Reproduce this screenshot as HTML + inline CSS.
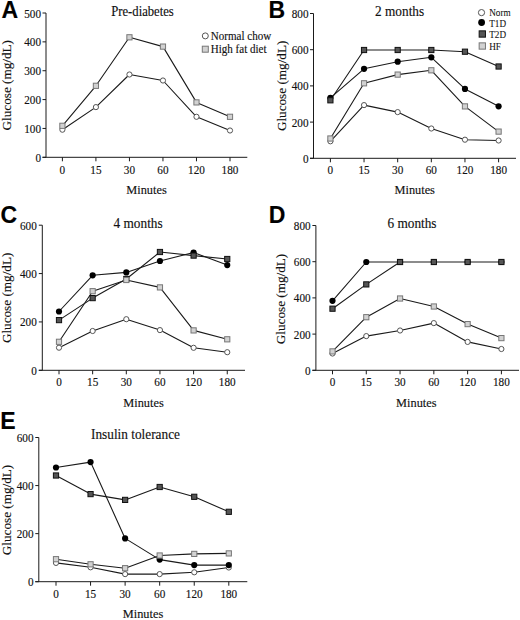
<!DOCTYPE html>
<html><head><meta charset="utf-8"><title>Glucose tolerance figure</title><style>
html,body{margin:0;padding:0;background:#fff;}
body{width:520px;height:620px;overflow:hidden;}
svg{display:block;}
.L{font-family:"Liberation Sans",sans-serif;font-weight:bold;font-size:24px;fill:#000;}
text{stroke:#111;stroke-width:0.15px;}
.t{font-family:"Liberation Serif",serif;font-size:12.2px;fill:#111;}
.m{font-family:"Liberation Serif",serif;font-size:13px;fill:#111;}
.ti{font-family:"Liberation Serif",serif;font-size:14px;fill:#111;}
.g{font-family:"Liberation Serif",serif;font-size:13.2px;fill:#111;}
.lg{font-family:"Liberation Serif",serif;font-size:12px;fill:#111;}
.lg2{font-family:"Liberation Serif",serif;font-size:10px;fill:#111;stroke-width:0.08px;}
.ax{stroke:#1a1a1a;stroke-width:1;fill:none;}
.ln{stroke:#1a1a1a;stroke-width:1.1;fill:none;stroke-linejoin:round;}
.mo{fill:#fff;stroke:#555;stroke-width:1;}
.mc{fill:#000;stroke:none;}
.md{fill:#555555;stroke:#111;stroke-width:1;}
.ml{fill:#d2d2d2;stroke:#777;stroke-width:1;}
</style></head><body>
<svg width="520" height="620" viewBox="0 0 520 620">
<rect width="520" height="620" fill="#fff"/>
<text transform="translate(1.5,18.3) scale(0.96,1)" class="L">A</text>
<line x1="46" y1="13" x2="46" y2="157.3" class="ax"/>
<line x1="42.5" y1="157.3" x2="247.3" y2="157.3" class="ax"/>
<line x1="42.5" y1="13" x2="46" y2="13" class="ax"/>
<text transform="translate(41,17.5) scale(0.92,1)" class="t" text-anchor="end">500</text>
<line x1="42.5" y1="41.86" x2="46" y2="41.86" class="ax"/>
<text transform="translate(41,46.36) scale(0.92,1)" class="t" text-anchor="end">400</text>
<line x1="42.5" y1="70.72" x2="46" y2="70.72" class="ax"/>
<text transform="translate(41,75.22) scale(0.92,1)" class="t" text-anchor="end">300</text>
<line x1="42.5" y1="99.58" x2="46" y2="99.58" class="ax"/>
<text transform="translate(41,104.08) scale(0.92,1)" class="t" text-anchor="end">200</text>
<line x1="42.5" y1="128.44" x2="46" y2="128.44" class="ax"/>
<text transform="translate(41,132.94) scale(0.92,1)" class="t" text-anchor="end">100</text>
<line x1="42.5" y1="157.3" x2="46" y2="157.3" class="ax"/>
<text transform="translate(41,161.8) scale(0.92,1)" class="t" text-anchor="end">0</text>
<line x1="62.4" y1="157.3" x2="62.4" y2="161.3" class="ax"/>
<text transform="translate(62.4,174) scale(0.92,1)" class="t" text-anchor="middle">0</text>
<line x1="95.92" y1="157.3" x2="95.92" y2="161.3" class="ax"/>
<text transform="translate(95.92,174) scale(0.92,1)" class="t" text-anchor="middle">15</text>
<line x1="129.44" y1="157.3" x2="129.44" y2="161.3" class="ax"/>
<text transform="translate(129.44,174) scale(0.92,1)" class="t" text-anchor="middle">30</text>
<line x1="162.96" y1="157.3" x2="162.96" y2="161.3" class="ax"/>
<text transform="translate(162.96,174) scale(0.92,1)" class="t" text-anchor="middle">60</text>
<line x1="196.48" y1="157.3" x2="196.48" y2="161.3" class="ax"/>
<text transform="translate(196.48,174) scale(0.92,1)" class="t" text-anchor="middle">120</text>
<line x1="230" y1="157.3" x2="230" y2="161.3" class="ax"/>
<text transform="translate(230,174) scale(0.92,1)" class="t" text-anchor="middle">180</text>
<text transform="translate(146.5,194.2) scale(0.95,1)" class="m" text-anchor="middle">Minutes</text>
<text transform="translate(142.5,15.8) scale(0.905,1)" class="ti" text-anchor="middle">Pre-diabetes</text>
<text transform="translate(11.4,85.25) rotate(-90) scale(1,0.92)" class="g" text-anchor="middle">Glucose (mg/dL)</text>
<text transform="translate(268.5,18.2) scale(0.96,1)" class="L">B</text>
<line x1="313.5" y1="13.5" x2="313.5" y2="158.3" class="ax"/>
<line x1="310" y1="158.3" x2="516" y2="158.3" class="ax"/>
<line x1="310" y1="13.5" x2="313.5" y2="13.5" class="ax"/>
<text transform="translate(308.5,18) scale(0.92,1)" class="t" text-anchor="end">800</text>
<line x1="310" y1="49.7" x2="313.5" y2="49.7" class="ax"/>
<text transform="translate(308.5,54.2) scale(0.92,1)" class="t" text-anchor="end">600</text>
<line x1="310" y1="85.9" x2="313.5" y2="85.9" class="ax"/>
<text transform="translate(308.5,90.4) scale(0.92,1)" class="t" text-anchor="end">400</text>
<line x1="310" y1="122.1" x2="313.5" y2="122.1" class="ax"/>
<text transform="translate(308.5,126.6) scale(0.92,1)" class="t" text-anchor="end">200</text>
<line x1="310" y1="158.3" x2="313.5" y2="158.3" class="ax"/>
<text transform="translate(308.5,162.8) scale(0.92,1)" class="t" text-anchor="end">0</text>
<line x1="330.4" y1="158.3" x2="330.4" y2="162.3" class="ax"/>
<text transform="translate(330.4,174.3) scale(0.92,1)" class="t" text-anchor="middle">0</text>
<line x1="364.04" y1="158.3" x2="364.04" y2="162.3" class="ax"/>
<text transform="translate(364.04,174.3) scale(0.92,1)" class="t" text-anchor="middle">15</text>
<line x1="397.68" y1="158.3" x2="397.68" y2="162.3" class="ax"/>
<text transform="translate(397.68,174.3) scale(0.92,1)" class="t" text-anchor="middle">30</text>
<line x1="431.32" y1="158.3" x2="431.32" y2="162.3" class="ax"/>
<text transform="translate(431.32,174.3) scale(0.92,1)" class="t" text-anchor="middle">60</text>
<line x1="464.96" y1="158.3" x2="464.96" y2="162.3" class="ax"/>
<text transform="translate(464.96,174.3) scale(0.92,1)" class="t" text-anchor="middle">120</text>
<line x1="498.6" y1="158.3" x2="498.6" y2="162.3" class="ax"/>
<text transform="translate(498.6,174.3) scale(0.92,1)" class="t" text-anchor="middle">180</text>
<text transform="translate(414.7,193.8) scale(0.95,1)" class="m" text-anchor="middle">Minutes</text>
<text transform="translate(399.6,15.7) scale(0.95,1)" class="ti" text-anchor="middle">2 months</text>
<text transform="translate(285.6,85.9) rotate(-90) scale(1,0.92)" class="g" text-anchor="middle">Glucose (mg/dL)</text>
<text transform="translate(0.5,222.5) scale(0.96,1)" class="L">C</text>
<line x1="42.3" y1="225.2" x2="42.3" y2="370.3" class="ax"/>
<line x1="38.8" y1="370.3" x2="245" y2="370.3" class="ax"/>
<line x1="38.8" y1="225.2" x2="42.3" y2="225.2" class="ax"/>
<text transform="translate(36.8,229.7) scale(0.92,1)" class="t" text-anchor="end">600</text>
<line x1="38.8" y1="273.57" x2="42.3" y2="273.57" class="ax"/>
<text transform="translate(36.8,278.07) scale(0.92,1)" class="t" text-anchor="end">400</text>
<line x1="38.8" y1="321.93" x2="42.3" y2="321.93" class="ax"/>
<text transform="translate(36.8,326.43) scale(0.92,1)" class="t" text-anchor="end">200</text>
<line x1="38.8" y1="370.3" x2="42.3" y2="370.3" class="ax"/>
<text transform="translate(36.8,374.8) scale(0.92,1)" class="t" text-anchor="end">0</text>
<line x1="59" y1="370.3" x2="59" y2="374.3" class="ax"/>
<text transform="translate(59,386.3) scale(0.92,1)" class="t" text-anchor="middle">0</text>
<line x1="92.65" y1="370.3" x2="92.65" y2="374.3" class="ax"/>
<text transform="translate(92.65,386.3) scale(0.92,1)" class="t" text-anchor="middle">15</text>
<line x1="126.3" y1="370.3" x2="126.3" y2="374.3" class="ax"/>
<text transform="translate(126.3,386.3) scale(0.92,1)" class="t" text-anchor="middle">30</text>
<line x1="159.95" y1="370.3" x2="159.95" y2="374.3" class="ax"/>
<text transform="translate(159.95,386.3) scale(0.92,1)" class="t" text-anchor="middle">60</text>
<line x1="193.6" y1="370.3" x2="193.6" y2="374.3" class="ax"/>
<text transform="translate(193.6,386.3) scale(0.92,1)" class="t" text-anchor="middle">120</text>
<line x1="227.25" y1="370.3" x2="227.25" y2="374.3" class="ax"/>
<text transform="translate(227.25,386.3) scale(0.92,1)" class="t" text-anchor="middle">180</text>
<text transform="translate(143.5,407) scale(0.95,1)" class="m" text-anchor="middle">Minutes</text>
<text transform="translate(138.1,227.5) scale(0.95,1)" class="ti" text-anchor="middle">4 months</text>
<text transform="translate(11.1,297.9) rotate(-90) scale(1,0.92)" class="g" text-anchor="middle">Glucose (mg/dL)</text>
<text transform="translate(268.7,223) scale(0.96,1)" class="L">D</text>
<line x1="315.9" y1="225.5" x2="315.9" y2="370.3" class="ax"/>
<line x1="312.4" y1="370.3" x2="519" y2="370.3" class="ax"/>
<line x1="312.4" y1="225.5" x2="315.9" y2="225.5" class="ax"/>
<text transform="translate(310.7,230) scale(0.92,1)" class="t" text-anchor="end">800</text>
<line x1="312.4" y1="261.7" x2="315.9" y2="261.7" class="ax"/>
<text transform="translate(310.7,266.2) scale(0.92,1)" class="t" text-anchor="end">600</text>
<line x1="312.4" y1="297.9" x2="315.9" y2="297.9" class="ax"/>
<text transform="translate(310.7,302.4) scale(0.92,1)" class="t" text-anchor="end">400</text>
<line x1="312.4" y1="334.1" x2="315.9" y2="334.1" class="ax"/>
<text transform="translate(310.7,338.6) scale(0.92,1)" class="t" text-anchor="end">200</text>
<line x1="312.4" y1="370.3" x2="315.9" y2="370.3" class="ax"/>
<text transform="translate(310.7,374.8) scale(0.92,1)" class="t" text-anchor="end">0</text>
<line x1="332.5" y1="370.3" x2="332.5" y2="374.3" class="ax"/>
<text transform="translate(332.5,386.3) scale(0.92,1)" class="t" text-anchor="middle">0</text>
<line x1="366.28" y1="370.3" x2="366.28" y2="374.3" class="ax"/>
<text transform="translate(366.28,386.3) scale(0.92,1)" class="t" text-anchor="middle">15</text>
<line x1="400.06" y1="370.3" x2="400.06" y2="374.3" class="ax"/>
<text transform="translate(400.06,386.3) scale(0.92,1)" class="t" text-anchor="middle">30</text>
<line x1="433.84" y1="370.3" x2="433.84" y2="374.3" class="ax"/>
<text transform="translate(433.84,386.3) scale(0.92,1)" class="t" text-anchor="middle">60</text>
<line x1="467.62" y1="370.3" x2="467.62" y2="374.3" class="ax"/>
<text transform="translate(467.62,386.3) scale(0.92,1)" class="t" text-anchor="middle">120</text>
<line x1="501.4" y1="370.3" x2="501.4" y2="374.3" class="ax"/>
<text transform="translate(501.4,386.3) scale(0.92,1)" class="t" text-anchor="middle">180</text>
<text transform="translate(416.3,406.6) scale(0.95,1)" class="m" text-anchor="middle">Minutes</text>
<text transform="translate(412,227.5) scale(0.95,1)" class="ti" text-anchor="middle">6 months</text>
<text transform="translate(284.7,299) rotate(-90) scale(1,0.92)" class="g" text-anchor="middle">Glucose (mg/dL)</text>
<text transform="translate(0.2,429.3) scale(0.96,1)" class="L">E</text>
<line x1="38.8" y1="437.5" x2="38.8" y2="581.7" class="ax"/>
<line x1="35.3" y1="581.7" x2="247.3" y2="581.7" class="ax"/>
<line x1="35.3" y1="437.5" x2="38.8" y2="437.5" class="ax"/>
<text transform="translate(33.5,442) scale(0.92,1)" class="t" text-anchor="end">600</text>
<line x1="35.3" y1="485.57" x2="38.8" y2="485.57" class="ax"/>
<text transform="translate(33.5,490.07) scale(0.92,1)" class="t" text-anchor="end">400</text>
<line x1="35.3" y1="533.63" x2="38.8" y2="533.63" class="ax"/>
<text transform="translate(33.5,538.13) scale(0.92,1)" class="t" text-anchor="end">200</text>
<line x1="35.3" y1="581.7" x2="38.8" y2="581.7" class="ax"/>
<text transform="translate(33.5,586.2) scale(0.92,1)" class="t" text-anchor="end">0</text>
<line x1="56" y1="581.7" x2="56" y2="585.7" class="ax"/>
<text transform="translate(56,597.8) scale(0.92,1)" class="t" text-anchor="middle">0</text>
<line x1="90.56" y1="581.7" x2="90.56" y2="585.7" class="ax"/>
<text transform="translate(90.56,597.8) scale(0.92,1)" class="t" text-anchor="middle">15</text>
<line x1="125.12" y1="581.7" x2="125.12" y2="585.7" class="ax"/>
<text transform="translate(125.12,597.8) scale(0.92,1)" class="t" text-anchor="middle">30</text>
<line x1="159.68" y1="581.7" x2="159.68" y2="585.7" class="ax"/>
<text transform="translate(159.68,597.8) scale(0.92,1)" class="t" text-anchor="middle">60</text>
<line x1="194.24" y1="581.7" x2="194.24" y2="585.7" class="ax"/>
<text transform="translate(194.24,597.8) scale(0.92,1)" class="t" text-anchor="middle">120</text>
<line x1="228.8" y1="581.7" x2="228.8" y2="585.7" class="ax"/>
<text transform="translate(228.8,597.8) scale(0.92,1)" class="t" text-anchor="middle">180</text>
<text transform="translate(143,618) scale(0.95,1)" class="m" text-anchor="middle">Minutes</text>
<text transform="translate(135.5,438.8) scale(0.95,1)" class="ti" text-anchor="middle">Insulin tolerance</text>
<text transform="translate(11.1,510) rotate(-90) scale(1,0.92)" class="g" text-anchor="middle">Glucose (mg/dL)</text>
<path d="M62.4,129.7 L95.92,107.1 L129.44,74.5 L162.96,80.5 L196.48,116.8 L230,130.5" class="ln"/>
<path d="M62.4,125.8 L95.92,85.8 L129.44,37.3 L162.96,46.6 L196.48,102.4 L230,116.8" class="ln"/>
<circle cx="62.4" cy="129.7" r="2.6" class="mo"/>
<circle cx="95.92" cy="107.1" r="2.6" class="mo"/>
<circle cx="129.44" cy="74.5" r="2.6" class="mo"/>
<circle cx="162.96" cy="80.5" r="2.6" class="mo"/>
<circle cx="196.48" cy="116.8" r="2.6" class="mo"/>
<circle cx="230" cy="130.5" r="2.6" class="mo"/>
<rect x="59.8" y="123.2" width="5.2" height="5.2" class="ml"/>
<rect x="93.32" y="83.2" width="5.2" height="5.2" class="ml"/>
<rect x="126.84" y="34.7" width="5.2" height="5.2" class="ml"/>
<rect x="160.36" y="44" width="5.2" height="5.2" class="ml"/>
<rect x="193.88" y="99.8" width="5.2" height="5.2" class="ml"/>
<rect x="227.4" y="114.2" width="5.2" height="5.2" class="ml"/>
<circle cx="205.3" cy="35.9" r="3" class="mo"/>
<rect x="202.3" y="46.2" width="6" height="6" class="ml"/>
<text transform="translate(210.8,39.5) scale(0.92,1)" class="lg" text-anchor="start">Normal chow</text>
<text transform="translate(210.8,52.5) scale(0.92,1)" class="lg" text-anchor="start">High fat diet</text>
<path d="M330.4,141.3 L364.04,105.1 L397.68,112.1 L431.32,128.5 L464.96,139.7 L498.6,140.5" class="ln"/>
<path d="M330.4,97.8 L364.04,68.8 L397.68,61.7 L431.32,57.3 L464.96,88.9 L498.6,106.3" class="ln"/>
<path d="M330.4,100.3 L364.04,50 L397.68,50 L431.32,50 L464.96,51.7 L498.6,66.5" class="ln"/>
<path d="M330.4,138.5 L364.04,83.3 L397.68,74.6 L431.32,70.3 L464.96,106.4 L498.6,131.6" class="ln"/>
<circle cx="330.4" cy="141.3" r="2.6" class="mo"/>
<circle cx="364.04" cy="105.1" r="2.6" class="mo"/>
<circle cx="397.68" cy="112.1" r="2.6" class="mo"/>
<circle cx="431.32" cy="128.5" r="2.6" class="mo"/>
<circle cx="464.96" cy="139.7" r="2.6" class="mo"/>
<circle cx="498.6" cy="140.5" r="2.6" class="mo"/>
<circle cx="330.4" cy="97.8" r="3.1" class="mc"/>
<circle cx="364.04" cy="68.8" r="3.1" class="mc"/>
<circle cx="397.68" cy="61.7" r="3.1" class="mc"/>
<circle cx="431.32" cy="57.3" r="3.1" class="mc"/>
<circle cx="464.96" cy="88.9" r="3.1" class="mc"/>
<circle cx="498.6" cy="106.3" r="3.1" class="mc"/>
<rect x="327.8" y="97.7" width="5.2" height="5.2" class="md"/>
<rect x="361.44" y="47.4" width="5.2" height="5.2" class="md"/>
<rect x="395.08" y="47.4" width="5.2" height="5.2" class="md"/>
<rect x="428.72" y="47.4" width="5.2" height="5.2" class="md"/>
<rect x="462.36" y="49.1" width="5.2" height="5.2" class="md"/>
<rect x="496" y="63.9" width="5.2" height="5.2" class="md"/>
<rect x="327.8" y="135.9" width="5.2" height="5.2" class="ml"/>
<rect x="361.44" y="80.7" width="5.2" height="5.2" class="ml"/>
<rect x="395.08" y="72" width="5.2" height="5.2" class="ml"/>
<rect x="428.72" y="67.7" width="5.2" height="5.2" class="ml"/>
<rect x="462.36" y="103.8" width="5.2" height="5.2" class="ml"/>
<rect x="496" y="129" width="5.2" height="5.2" class="ml"/>
<circle cx="481.5" cy="12.6" r="3.1" class="mo"/>
<circle cx="481.6" cy="22.5" r="3.4" class="mc"/>
<rect x="479.15" y="30.85" width="6.3" height="6.3" class="md"/>
<rect x="479.15" y="42.85" width="6.3" height="6.3" class="ml"/>
<text transform="translate(489.2,15.6) scale(0.92,1)" class="lg2" text-anchor="start">Norm</text>
<text transform="translate(489.2,26.8) scale(0.92,1)" class="lg2" text-anchor="start">T1D</text>
<text transform="translate(489.2,38.3) scale(0.92,1)" class="lg2" text-anchor="start">T2D</text>
<text transform="translate(489.2,49.8) scale(0.92,1)" class="lg2" text-anchor="start">HF</text>
<path d="M59,347.7 L92.65,331 L126.3,319.2 L159.95,330.1 L193.6,347.8 L227.25,352.2" class="ln"/>
<path d="M59,311.5 L92.65,275.3 L126.3,272.4 L159.95,261 L193.6,252.5 L227.25,265.1" class="ln"/>
<path d="M59,320.1 L92.65,298.1 L126.3,279 L159.95,252 L193.6,255.6 L227.25,259" class="ln"/>
<path d="M59,341.8 L92.65,291.2 L126.3,280 L159.95,287.4 L193.6,330.4 L227.25,339.3" class="ln"/>
<circle cx="59" cy="347.7" r="2.6" class="mo"/>
<circle cx="92.65" cy="331" r="2.6" class="mo"/>
<circle cx="126.3" cy="319.2" r="2.6" class="mo"/>
<circle cx="159.95" cy="330.1" r="2.6" class="mo"/>
<circle cx="193.6" cy="347.8" r="2.6" class="mo"/>
<circle cx="227.25" cy="352.2" r="2.6" class="mo"/>
<circle cx="59" cy="311.5" r="3.1" class="mc"/>
<circle cx="92.65" cy="275.3" r="3.1" class="mc"/>
<circle cx="126.3" cy="272.4" r="3.1" class="mc"/>
<circle cx="159.95" cy="261" r="3.1" class="mc"/>
<circle cx="193.6" cy="252.5" r="3.1" class="mc"/>
<circle cx="227.25" cy="265.1" r="3.1" class="mc"/>
<rect x="56.4" y="317.5" width="5.2" height="5.2" class="md"/>
<rect x="90.05" y="295.5" width="5.2" height="5.2" class="md"/>
<rect x="123.7" y="276.4" width="5.2" height="5.2" class="md"/>
<rect x="157.35" y="249.4" width="5.2" height="5.2" class="md"/>
<rect x="191" y="253" width="5.2" height="5.2" class="md"/>
<rect x="224.65" y="256.4" width="5.2" height="5.2" class="md"/>
<rect x="56.4" y="339.2" width="5.2" height="5.2" class="ml"/>
<rect x="90.05" y="288.6" width="5.2" height="5.2" class="ml"/>
<rect x="123.7" y="277.4" width="5.2" height="5.2" class="ml"/>
<rect x="157.35" y="284.8" width="5.2" height="5.2" class="ml"/>
<rect x="191" y="327.8" width="5.2" height="5.2" class="ml"/>
<rect x="224.65" y="336.7" width="5.2" height="5.2" class="ml"/>
<path d="M332.5,353.5 L366.28,336.1 L400.06,330.5 L433.84,323.1 L467.62,341.9 L501.4,349" class="ln"/>
<path d="M332.5,300.8 L366.28,262 L400.06,262" class="ln"/>
<path d="M332.5,308.7 L366.28,284.4 L400.06,262 L433.84,262 L467.62,262 L501.4,262" class="ln"/>
<path d="M332.5,351.4 L366.28,317.2 L400.06,298.5 L433.84,306.5 L467.62,324.1 L501.4,338.1" class="ln"/>
<circle cx="332.5" cy="353.5" r="2.6" class="mo"/>
<circle cx="366.28" cy="336.1" r="2.6" class="mo"/>
<circle cx="400.06" cy="330.5" r="2.6" class="mo"/>
<circle cx="433.84" cy="323.1" r="2.6" class="mo"/>
<circle cx="467.62" cy="341.9" r="2.6" class="mo"/>
<circle cx="501.4" cy="349" r="2.6" class="mo"/>
<circle cx="332.5" cy="300.8" r="3.1" class="mc"/>
<circle cx="366.28" cy="262" r="3.1" class="mc"/>
<circle cx="400.06" cy="262" r="3.1" class="mc"/>
<circle cx="433.84" cy="262" r="3.1" class="mc"/>
<circle cx="467.62" cy="262" r="3.1" class="mc"/>
<circle cx="501.4" cy="262" r="3.1" class="mc"/>
<rect x="329.9" y="306.1" width="5.2" height="5.2" class="md"/>
<rect x="363.68" y="281.8" width="5.2" height="5.2" class="md"/>
<rect x="397.46" y="259.4" width="5.2" height="5.2" class="md"/>
<rect x="431.24" y="259.4" width="5.2" height="5.2" class="md"/>
<rect x="465.02" y="259.4" width="5.2" height="5.2" class="md"/>
<rect x="498.8" y="259.4" width="5.2" height="5.2" class="md"/>
<rect x="329.9" y="348.8" width="5.2" height="5.2" class="ml"/>
<rect x="363.68" y="314.6" width="5.2" height="5.2" class="ml"/>
<rect x="397.46" y="295.9" width="5.2" height="5.2" class="ml"/>
<rect x="431.24" y="303.9" width="5.2" height="5.2" class="ml"/>
<rect x="465.02" y="321.5" width="5.2" height="5.2" class="ml"/>
<rect x="498.8" y="335.5" width="5.2" height="5.2" class="ml"/>
<path d="M56,562.9 L90.56,567.3 L125.12,574.1 L159.68,574.1 L194.24,572.3 L228.8,567.5" class="ln"/>
<path d="M56,467.5 L90.56,462.1 L125.12,538.4 L159.68,559.6 L194.24,565.1 L228.8,565.1" class="ln"/>
<path d="M56,475.5 L90.56,494.1 L125.12,499.9 L159.68,487 L194.24,496.8 L228.8,511.8" class="ln"/>
<path d="M56,559.2 L90.56,564.3 L125.12,568.2 L159.68,555.5 L194.24,553.9 L228.8,553.4" class="ln"/>
<circle cx="56" cy="562.9" r="2.6" class="mo"/>
<circle cx="90.56" cy="567.3" r="2.6" class="mo"/>
<circle cx="125.12" cy="574.1" r="2.6" class="mo"/>
<circle cx="159.68" cy="574.1" r="2.6" class="mo"/>
<circle cx="194.24" cy="572.3" r="2.6" class="mo"/>
<circle cx="228.8" cy="567.5" r="2.6" class="mo"/>
<circle cx="56" cy="467.5" r="3.1" class="mc"/>
<circle cx="90.56" cy="462.1" r="3.1" class="mc"/>
<circle cx="125.12" cy="538.4" r="3.1" class="mc"/>
<circle cx="159.68" cy="559.6" r="3.1" class="mc"/>
<circle cx="194.24" cy="565.1" r="3.1" class="mc"/>
<circle cx="228.8" cy="565.1" r="3.1" class="mc"/>
<rect x="53.4" y="472.9" width="5.2" height="5.2" class="md"/>
<rect x="87.96" y="491.5" width="5.2" height="5.2" class="md"/>
<rect x="122.52" y="497.3" width="5.2" height="5.2" class="md"/>
<rect x="157.08" y="484.4" width="5.2" height="5.2" class="md"/>
<rect x="191.64" y="494.2" width="5.2" height="5.2" class="md"/>
<rect x="226.2" y="509.2" width="5.2" height="5.2" class="md"/>
<rect x="53.4" y="556.6" width="5.2" height="5.2" class="ml"/>
<rect x="87.96" y="561.7" width="5.2" height="5.2" class="ml"/>
<rect x="122.52" y="565.6" width="5.2" height="5.2" class="ml"/>
<rect x="157.08" y="552.9" width="5.2" height="5.2" class="ml"/>
<rect x="191.64" y="551.3" width="5.2" height="5.2" class="ml"/>
<rect x="226.2" y="550.8" width="5.2" height="5.2" class="ml"/>
</svg>
</body></html>
